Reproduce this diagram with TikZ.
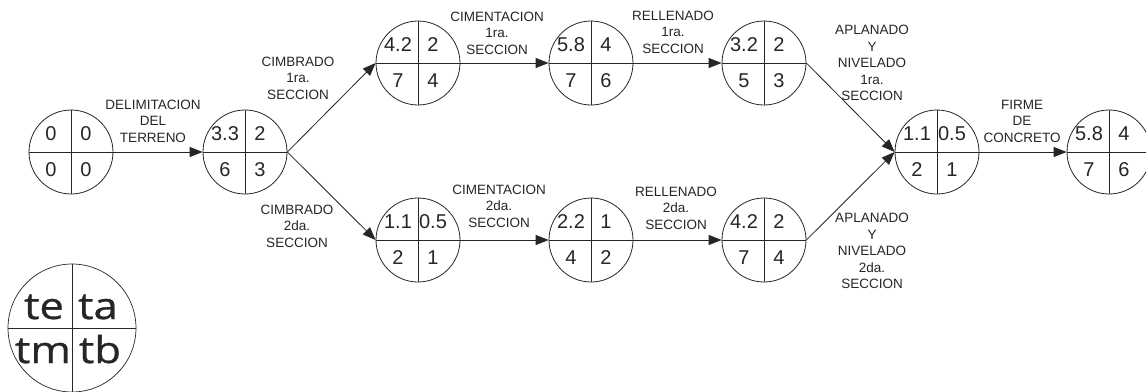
\documentclass[tikz,border=0pt]{standalone}
\usepackage{fontspec}
\setmainfont{Liberation Sans}
\newfontfamily\legfont[FakeStretch=1.18,FakeBold=0.8]{Open Sans}
\usetikzlibrary{arrows.meta}
\definecolor{ink}{HTML}{262626}
\tikzset{
  ev/.style={draw=ink, circle, minimum size=84pt, inner sep=0pt, line width=0.8pt},
  quad/.style={draw=ink, line width=0.8pt},
  num/.style={inner sep=0pt, text=ink, font=\fontsize{20}{22}\selectfont},
  lbl/.style={inner sep=0pt, text=ink, align=center, font=\fontsize{13.5}{16.5}\selectfont},
  act/.style={draw=ink, line width=0.8pt, -{Triangle[length=13pt,width=10pt]}},
  leg/.style={inner sep=0pt, anchor=base, text=ink, font=\legfont\fontsize{37}{40}\selectfont}
}
\newcommand{\evnode}[7]{%
  \node[ev] (#1) at (#2,#3) {};
  \draw[quad] (#1.north) -- (#1.south);
  \draw[quad] (#1.west) -- (#1.east);
  \node[num] (#1-a) at ([shift={(-20,-18)}]#1.center) {#4};
  \node[num] (#1-b) at ([shift={(15,-18)}]#1.center) {#5};
  \node[num] (#1-c) at ([shift={(-20,18)}]#1.center) {#6};
  \node[num] (#1-d) at ([shift={(15,18)}]#1.center) {#7};
}
\begin{document}
\begin{tikzpicture}[x=1pt,y=-1pt]
\useasboundingbox[fill=white] (0,0) rectangle (1146,391);
\evnode{n1}{71}{152}{0}{0}{0}{0}
\evnode{n2}{245}{152}{3.3}{2}{6}{3}
\evnode{n3}{418}{63}{4.2}{2}{7}{4}
\evnode{n4}{591}{63}{5.8}{4}{7}{6}
\evnode{n5}{764}{63}{3.2}{2}{5}{3}
\evnode{m1}{418}{240}{1.1}{0.5}{2}{1}
\evnode{m2}{591}{240}{2.2}{1}{4}{2}
\evnode{m3}{764}{240}{4.2}{2}{7}{4}
\evnode{n6}{937}{152}{1.1}{0.5}{2}{1}
\evnode{n7}{1109}{152}{5.8}{4}{7}{6}

\draw[act] (n1.east) -- (n2.west);
\draw[act] (n2.east) -- (n3.west);
\draw[act] (n2.east) -- (m1.west);
\draw[act] (n3.east) -- (n4.west);
\draw[act] (n4.east) -- (n5.west);
\draw[act] (m1.east) -- (m2.west);
\draw[act] (m2.east) -- (m3.west);
\draw[act] (n5.east) -- (n6.west);
\draw[act] (m3.east) -- (n6.west);
\draw[act] (n6.east) -- (n7.west);

\node[lbl] (l1) at (153,121) {DELIMITACION\\DEL\\TERRENO};
\node[lbl] (l2) at (298,78) {CIMBRADO\\1ra.\\SECCION};
\node[lbl] (l3) at (297,226) {CIMBRADO\\2da.\\SECCION};
\node[lbl] (l4) at (497,33) {CIMENTACION\\1ra.\\SECCION};
\node[lbl] (l5) at (499,206) {CIMENTACION\\2da.\\SECCION};
\node[lbl] (l6) at (673,32) {RELLENADO\\1ra.\\SECCION};
\node[lbl] (l7) at (676,208) {RELLENADO\\2da.\\SECCION};
\node[lbl] (l8) at (872,63) {APLANADO\\Y\\NIVELADO\\1ra.\\SECCION};
\node[lbl] (l9) at (872,251) {APLANADO\\Y\\NIVELADO\\2da.\\SECCION};
\node[lbl] (l10) at (1022,121) {FIRME\\DE\\CONCRETO};

\node[draw=ink, circle, minimum size=128pt, inner sep=0pt, line width=0.7pt] (lg) at (72,328) {};
\draw[draw=ink, line width=0.7pt] (lg.north) -- (lg.south);
\draw[draw=ink, line width=0.7pt] (lg.west) -- (lg.east);
\node[leg] (lg-a) at (44,319) {te};
\node[leg] (lg-b) at (98,319) {ta};
\node[leg] (lg-c) at (43,363) {tm};
\node[leg] (lg-d) at (100,363) {tb};
\end{tikzpicture}
\end{document}
